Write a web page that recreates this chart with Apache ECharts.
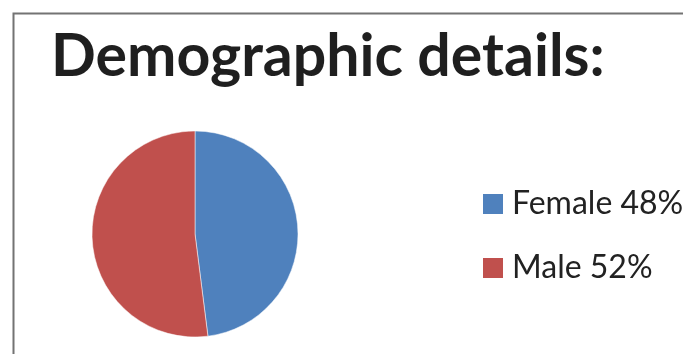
<!DOCTYPE html>
<html><head><meta charset="utf-8">
<script src="https://cdn.jsdelivr.net/npm/echarts@6/dist/echarts.min.js"></script>
<style>html,body{margin:0;padding:0;background:#fff}#c{width:683px;height:354px}</style>
</head><body><div id="c"></div>
<script>
const titleText = 'Demographic details:';
const categories = ['Female', 'Male'];
const values = [48, 52];
const colors = ['#4F81BD', '#C0504D'];

const chart = echarts.init(document.getElementById('c'), null, {renderer: 'canvas'});
chart.setOption({
  backgroundColor: '#fff',
  animation: false,
  graphic: [{
    type: 'rect', left: 11, top: 11, silent: true,
    shape: {width: 700, height: 360},
    style: {fill: 'none', stroke: '#737373', lineWidth: 2}
  }],
  title: {
    text: titleText, left: 46, top: 22,
    textStyle: {fontFamily: 'Lato', fontWeight: 'bold', fontSize: 59, color: '#1f1f1f'}
  },
  legend: {
    orient: 'vertical', left: 483, top: 188, itemWidth: 20, itemHeight: 20, itemGap: 32,
    icon: 'rect', padding: 0,
    itemStyle: {borderWidth: 0},
    formatter: function (name) { const i = categories.indexOf(name); return name + ' ' + values[i] + '%'; },
    textStyle: {fontFamily: 'Lato', fontSize: 32, lineHeight: 20, color: '#222', padding: [0,0,0,4]}
  },
  series: [{
    type: 'pie', center: [195, 234], radius: 103, startAngle: 90, clockwise: true,
    label: {show: false}, labelLine: {show: false},
    itemStyle: {borderColor: '#fff', borderWidth: 0.5},
    data: categories.map((c, i) => ({name: c, value: values[i], itemStyle: {color: colors[i]}}))
  }]
});
</script></body></html>
